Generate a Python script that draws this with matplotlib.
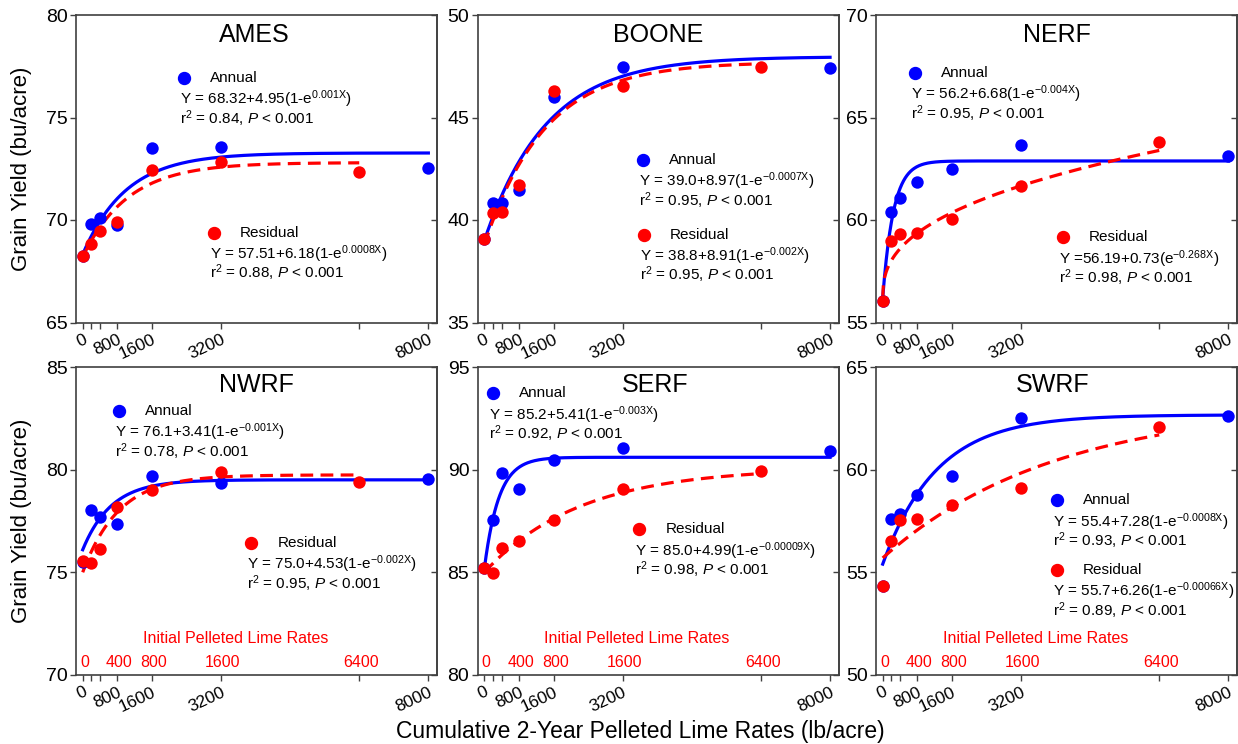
import numpy as np
import matplotlib.pyplot as plt

plt.rcParams['font.family'] = ['Liberation Sans', 'DejaVu Sans']
plt.rcParams['mathtext.fontset'] = 'custom'
plt.rcParams['mathtext.rm'] = 'Liberation Sans'
plt.rcParams['mathtext.it'] = 'Liberation Sans:italic'
plt.rcParams['mathtext.default'] = 'regular'

BLUE = '#0000ff'
RED = '#ff0000'

# cumulative 2-year pelleted lime rates (lb/acre)
annual_x = [0, 200, 400, 800, 1600, 3200, 8000]
residual_x = [0, 200, 400, 800, 1600, 3200, 6400]

x_ticks = [0, 200, 400, 800, 1600, 3200, 6400, 8000]
x_ticklabels = ['0', '', '', '800', '1600', '3200', '', '8000']

# initial pelleted lime rates and the cumulative rate they sit above
initial_rates = ['0', '400', '800', '1600', '6400']
initial_at = [0, 800, 1600, 3200, 6400]

# grain yield (bu/acre)
ames_annual = [68.22, 69.81, 70.09, 69.76, 73.53, 73.55, 72.56]
ames_residual = [68.25, 68.83, 69.44, 69.92, 72.43, 72.82, 72.33]
boone_annual = [39.06, 40.85, 40.85, 41.47, 45.99, 47.45, 47.43]
boone_residual = [39.06, 40.36, 40.38, 41.71, 46.31, 46.54, 47.48]
nerf_annual = [56.06, 60.38, 61.08, 61.83, 62.48, 63.68, 63.14]
nerf_residual = [56.06, 59.00, 59.31, 59.36, 60.05, 61.68, 63.79]
nwrf_annual = [75.50, 78.02, 77.70, 77.34, 79.68, 79.36, 79.54]
nwrf_residual = [75.53, 75.46, 76.13, 78.18, 79.00, 79.88, 79.41]
serf_annual = [85.22, 87.53, 89.86, 89.05, 90.50, 91.04, 90.91]
serf_residual = [85.22, 84.99, 86.18, 86.55, 87.56, 89.05, 89.93]
swrf_annual = [54.35, 57.58, 57.83, 58.79, 59.72, 62.54, 62.64]
swrf_residual = [54.35, 56.52, 57.53, 57.58, 58.30, 59.11, 62.07]

# fitted response curves: ('exp', a, b, c) -> a + b(1 - e^(-cx)); ('pow', a, b, p) -> a + b x^p
ames_fits = [('exp', 68.32, 4.95, 0.001), ('exp', 68.2, 4.6, 0.00095)]
boone_fits = [('exp', 39.0, 8.97, 0.0007), ('exp', 38.8, 8.91, 0.00072)]
nerf_fits = [('exp', 56.2, 6.68, 0.004), ('pow', 56.19, 0.226, 0.395)]
nwrf_fits = [('exp', 76.1, 3.41, 0.0015), ('exp', 75.0, 4.75, 0.0012)]
serf_fits = [('exp', 85.2, 5.41, 0.003), ('exp', 85.0, 5.1, 0.00045)]
swrf_fits = [('exp', 55.4, 7.28, 0.0008), ('exp', 55.7, 7.52, 0.00025)]

ames_eqs = [r'Y = 68.32+4.95(1-e$^{0.001X}$)', r'Y = 57.51+6.18(1-e$^{0.0008X}$)']
boone_eqs = [r'Y = 39.0+8.97(1-e$^{-0.0007X}$)', r'Y = 38.8+8.91(1-e$^{-0.002X}$)']
nerf_eqs = [r'Y = 56.2+6.68(1-e$^{-0.004X}$)', r'Y =56.19+0.73(e$^{-0.268X}$)']
nwrf_eqs = [r'Y = 76.1+3.41(1-e$^{-0.001X}$)', r'Y = 75.0+4.53(1-e$^{-0.002X}$)']
serf_eqs = [r'Y = 85.2+5.41(1-e$^{-0.003X}$)', r'Y = 85.0+4.99(1-e$^{-0.00009X}$)']
swrf_eqs = [r'Y = 55.4+7.28(1-e$^{-0.0008X}$)', r'Y = 55.7+6.26(1-e$^{-0.00066X}$)']

ames_r2 = ['0.84', '0.88']
boone_r2 = ['0.95', '0.95']
nerf_r2 = ['0.95', '0.98']
nwrf_r2 = ['0.78', '0.95']
serf_r2 = ['0.92', '0.98']
swrf_r2 = ['0.93', '0.89']

panels = [
    # name, annual, residual, fits, eqs, r2, ylim, title xy, annual dot xy, residual dot xy
    ('AMES', ames_annual, ames_residual, ames_fits, ames_eqs, ames_r2, (65, 80),
     (0.495, 0.935), (0.2985, 0.796), (0.3826, 0.2925)),
    ('BOONE', boone_annual, boone_residual, boone_fits, boone_eqs, boone_r2, (35, 50),
     (0.499, 0.935), (0.4575, 0.5287), (0.4593, 0.286)),
    ('NERF', nerf_annual, nerf_residual, nerf_fits, nerf_eqs, nerf_r2, (55, 70),
     (0.50, 0.935), (0.108, 0.8126), (0.518, 0.277)),
    ('NWRF', nwrf_annual, nwrf_residual, nwrf_fits, nwrf_eqs, nwrf_r2, (70, 85),
     (0.50, 0.942), (0.119, 0.8576), (0.486, 0.429)),
    ('SERF', serf_annual, serf_residual, serf_fits, serf_eqs, serf_r2, (80, 95),
     (0.492, 0.942), (0.0416, 0.915), (0.448, 0.473)),
    ('SWRF', swrf_annual, swrf_residual, swrf_fits, swrf_eqs, swrf_r2, (50, 65),
     (0.49, 0.942), (0.502, 0.567), (0.502, 0.341)),
]

W, H = 1238, 744
col_left = [76, 477.7, 876]
ax_w = 361
row_top = [15, 367.3]
ax_h = 307.5


def fit_curve(fit, x):
    kind, a, b, c = fit
    if kind == 'exp':
        return a + b * (1 - np.exp(-c * x))
    return a + b * np.power(x, c)


def legend_block(ax, xy, color, name, eq, r2):
    x, y = xy
    ax.plot([x], [y], 'o', color=color, ms=8.6, transform=ax.transAxes, clip_on=False)
    ax.text(x + 0.072, y, name, transform=ax.transAxes, va='center', fontsize=11)
    ax.text(x - 0.011, y - 0.07, eq, transform=ax.transAxes, va='center', fontsize=11)
    ax.text(x - 0.011, y - 0.132, 'r$^2$ = ' + r2 + r', $\it{P}$ < 0.001',
            transform=ax.transAxes, va='center', fontsize=11)


fig = plt.figure(figsize=(W / 100, H / 100), dpi=100)

for i, (name, ann, res, fits, eqs, r2, ylim, title_xy, ann_xy, res_xy) in enumerate(panels):
    row, col = divmod(i, 3)
    ax = fig.add_axes([col_left[col] / W, 1 - (row_top[row] + ax_h) / H, ax_w / W, ax_h / H])

    xa = np.linspace(0, 8000, 400)
    xr = np.linspace(0, 6400, 400)
    ax.plot(xa, fit_curve(fits[0], xa), color=BLUE, lw=2.3, zorder=2)
    ax.plot(xr, fit_curve(fits[1], xr), color=RED, lw=2.3, ls=(0, (4, 2.3)), zorder=2)
    ax.scatter(annual_x, ann, s=80, color=BLUE, zorder=3, linewidths=0)
    ax.scatter(residual_x, res, s=80, color=RED, zorder=4, linewidths=0)

    ax.set_xlim(-155, 8200)
    ax.set_ylim(*ylim)
    ax.set_yticks(np.arange(ylim[0], ylim[1] + 1, 5))
    ax.set_xticks(x_ticks)
    ax.set_xticklabels(x_ticklabels, rotation=25, ha='right', rotation_mode='anchor', fontsize=12.5)
    ax.tick_params(axis='y', labelsize=14, length=4, width=1, color='#404040', pad=2)
    ax.tick_params(axis='x', length=4, width=1, color='#404040', pad=3)
    for sp in ax.spines.values():
        sp.set_color('#404040')
        sp.set_linewidth(1.2)

    right = ax.secondary_yaxis('right')
    right.set_yticks(np.arange(ylim[0], ylim[1] + 1, 5))
    right.tick_params(direction='in', labelright=False, length=4, width=1, color='#404040')
    right.spines['right'].set_color('#404040')
    right.spines['right'].set_linewidth(1.2)

    ax.text(*title_xy, name, transform=ax.transAxes, ha='center', va='center', fontsize=18)
    legend_block(ax, ann_xy, BLUE, 'Annual', eqs[0], r2[0])
    legend_block(ax, res_xy, RED, 'Residual', eqs[1], r2[1])

    if row == 1:
        tr = ax.get_xaxis_transform()
        ax.text(3530, 0.118, 'Initial Pelleted Lime Rates', transform=tr,
                ha='center', va='center', color=RED, fontsize=11.5)
        for lab, pos in zip(initial_rates, initial_at):
            ax.text(pos + 40, 0.039, lab, transform=tr, ha='center', va='center',
                    color=RED, fontsize=11.5)

fig.text(22 / W, 1 - 169 / H, 'Grain Yield (bu/acre)', rotation=90, ha='center', va='center', fontsize=16)
fig.text(22 / W, 1 - 520.5 / H, 'Grain Yield (bu/acre)', rotation=90, ha='center', va='center', fontsize=16)
fig.text(640 / W, 1 - 738 / H, 'Cumulative 2-Year Pelleted Lime Rates (lb/acre)',
         ha='center', va='baseline', fontsize=16.5)

fig.savefig('out.png', dpi=100)
